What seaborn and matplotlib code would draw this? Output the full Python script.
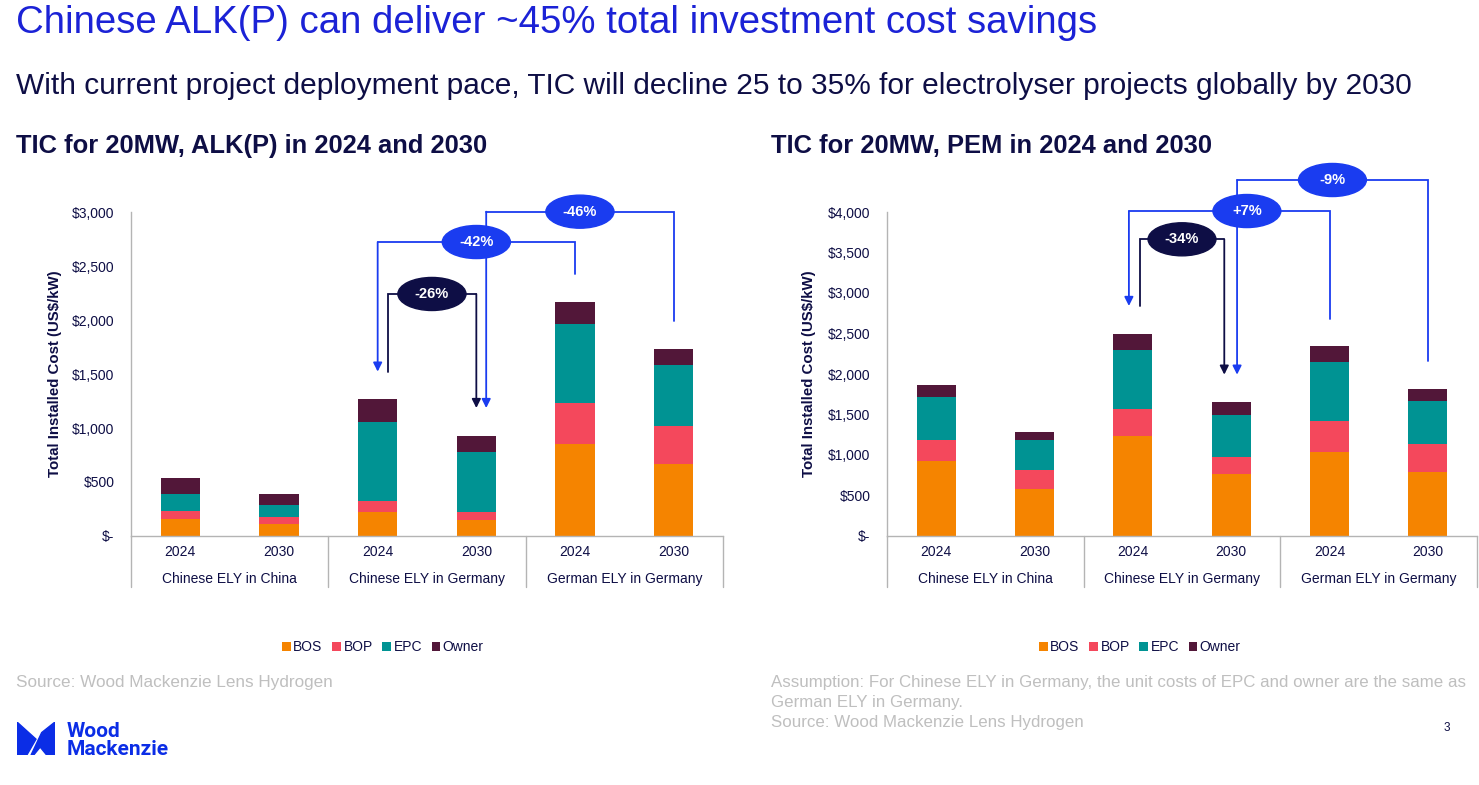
import numpy as np
import matplotlib.pyplot as plt
import seaborn as sns
from matplotlib.patches import Ellipse, Patch, Polygon
from matplotlib.transforms import blended_transform_factory

# ---- data (US$/kW) ----
groups = ["Chinese ELY in China", "Chinese ELY in Germany", "German ELY in Germany"]
years = ["2024", "2030"]
components = ["BOS", "BOP", "EPC", "Owner"]

alk_bos = [158, 108, 222, 151, 850, 664]
alk_bop = [77, 71, 105, 71, 380, 359]
alk_epc = [154, 105, 733, 553, 735, 559]
alk_owner = [149, 102, 207, 155, 204, 154]

pem_bos = [927, 577, 1240, 766, 1034, 787]
pem_bop = [255, 243, 330, 206, 383, 346]
pem_epc = [536, 362, 729, 527, 725, 535]
pem_owner = [152, 103, 201, 153, 202, 149]

# comparisons: (from bar, to bar, label)
alk_changes = [(2, 3, "-26%"), (4, 2, "-42%"), (5, 3, "-46%")]
pem_changes = [(2, 3, "-34%"), (4, 2, "+7%"), (5, 3, "-9%")]

# ---- styling ----
colors = ["#F58400", "#F4485C", "#009393", "#521739"]
navy = "#0E0E45"
blue = "#1A3CF0"
title_blue = "#1B22D6"
grey_txt = "#BFBFBF"
line_grey = "#B4B4B4"

W, H = 1479, 785


def fx(x):
    return x / W


def fy(y):
    return 1 - y / H


sns.set_style("white")
plt.rcParams["font.family"] = ["Liberation Sans", "DejaVu Sans"]

fig = plt.figure(figsize=(W / 100, H / 100), dpi=100)

fig.text(fx(16), fy(33), "Chinese ALK(P) can deliver ~45% total investment cost savings",
         color=title_blue, fontsize=27.6, va="baseline")
fig.text(fx(16), fy(94), "With current project deployment pace, TIC will decline 25 to 35% "
         "for electrolyser projects globally by 2030", color=navy, fontsize=21.5, va="baseline")


def draw_chart(ax, bos, bop, epc, owner, ymax, step, changes, bracket_levels,
               offsets, label_shift):
    labels = [f"{g}|{y}" for g in groups for y in years]
    layers = np.cumsum([bos, bop, epc, owner], axis=0)
    # stacked bars: draw cumulative totals from the top layer down
    for i in range(len(components) - 1, -1, -1):
        sns.barplot(x=labels, y=layers[i], order=labels, color=colors[i],
                    saturation=1, width=0.4, linewidth=0, ax=ax, zorder=2)
    ax.set_xlim(-0.5, 5.5)
    ax.set_ylim(0, ymax)
    ticks = np.arange(0, ymax + 1, step)
    ax.set_yticks(ticks, ["$-" if t == 0 else f"${t:,.0f}" for t in ticks])
    ax.set_xticks([])
    ax.set_xlabel("")
    ax.tick_params(axis="y", length=0, pad=12, labelsize=10, labelcolor=navy)
    for s in ["top", "right"]:
        ax.spines[s].set_visible(False)
    for s in ["left", "bottom"]:
        ax.spines[s].set_color(line_grey)
        ax.spines[s].set_linewidth(1)

    tr = blended_transform_factory(ax.transData, ax.transAxes)
    for k, x in enumerate(range(6)):
        ax.text(x, -0.049, years[k % 2], transform=tr, ha="center", va="center",
                fontsize=10, color=navy)
    for g, name in enumerate(groups):
        ax.text(2 * g + 0.5, -0.133, name, transform=tr, ha="center", va="center",
                fontsize=10, color=navy)
    for xb in [-0.5, 1.5, 3.5, 5.5]:
        ax.plot([xb, xb], [0, -0.157], transform=tr, color=line_grey, lw=1, clip_on=False)

    totals = layers[-1]
    gap = 0.085 * ymax
    ew, eh = 0.69, 0.102 * ymax
    for n, ((src, dst, lab), level, (dxs, dxd), shift) in enumerate(
            zip(changes, bracket_levels, offsets, label_shift)):
        col = navy if n == 0 else blue
        xs, xd = src + dxs, dst + dxd
        ax.plot([xs, xs, xd], [totals[src] + gap, level, level], color=col, lw=1.3,
                clip_on=False, zorder=3, solid_joinstyle="miter")
        ax.annotate("", xy=(xd, totals[dst] + gap), xytext=(xd, level),
                    arrowprops=dict(arrowstyle="-|>", color=col, lw=1.3, mutation_scale=13,
                                    shrinkA=0, shrinkB=0),
                    annotation_clip=False, zorder=3)
        lx = (xs + xd) / 2 + shift
        ax.add_patch(Ellipse((lx, level), ew, eh, color=col, clip_on=False, zorder=4))
        ax.text(lx, level, lab, color="white", ha="center", va="center", fontsize=10.5,
                fontweight="bold", zorder=5)


ax1 = fig.add_axes([fx(131), fy(536), fx(723 - 131), 324 / H])
draw_chart(ax1, alk_bos, alk_bop, alk_epc, alk_owner, 3000, 500, alk_changes,
           [2241, 2722, 3003], [(0.1, 0), (0, 0), (0, 0.1)], [0, 0, 0])

ax2 = fig.add_axes([fx(887), fy(536), fx(1477 - 887), 324 / H])
draw_chart(ax2, pem_bos, pem_bop, pem_epc, pem_owner, 4000, 500, pem_changes,
           [3663, 4012, 4395], [(0.07, -0.07), (0, -0.04), (0, 0.06)], [0, 0.18, 0])

fig.text(fx(16), fy(153), "TIC for 20MW, ALK(P) in 2024 and 2030", color=navy,
         fontsize=18.4, fontweight="bold", va="baseline")
fig.text(fx(771), fy(153), "TIC for 20MW, PEM in 2024 and 2030", color=navy,
         fontsize=18.4, fontweight="bold", va="baseline")

for xl in [55, 809]:
    fig.text(fx(xl), fy(374), "Total Installed Cost (US$/kW)", rotation=90, ha="center",
             va="center", fontsize=10.8, fontweight="bold", color=navy)

handles = [Patch(facecolor=c, edgecolor="none") for c in colors]
for xc in [383, 1140]:
    fig.legend(handles, components, loc="center", bbox_to_anchor=(fx(xc), fy(647)),
               ncol=4, frameon=False, fontsize=10, handlelength=0.6, handleheight=0.6,
               handletextpad=0.2, columnspacing=0.7, labelcolor=navy)

fig.text(fx(16), fy(687), "Source: Wood Mackenzie Lens Hydrogen", color=grey_txt,
         fontsize=12.3, va="baseline")
fig.text(fx(771), fy(687), "Assumption: For Chinese ELY in Germany, the unit costs of EPC "
         "and owner are the same as", color=grey_txt, fontsize=12.2, va="baseline")
fig.text(fx(771), fy(707), "German ELY in Germany.", color=grey_txt, fontsize=12.2,
         va="baseline")
fig.text(fx(771), fy(727), "Source: Wood Mackenzie Lens Hydrogen", color=grey_txt,
         fontsize=12.2, va="baseline")
fig.text(fx(1447), fy(731), "3", color=navy, fontsize=8.5, ha="center", va="baseline")

# logo
logo_blue = "#0B2DE6"
lax = fig.add_axes([fx(17), fy(755), fx(38), 33 / H])
lax.set_xlim(0, 1)
lax.set_ylim(0, 1)
lax.axis("off")
lax.add_patch(Polygon([(0, 1), (0.5, 0.48), (0.26, 0), (0, 0)], color=logo_blue))
lax.add_patch(Polygon([(1, 1), (1, 0), (0.78, 0), (0.61, 0.24), (0.44, 0), (0.37, 0),
                       (0.65, 0.68)], color=logo_blue))
fig.text(fx(67), fy(737), "Wood", color=logo_blue, fontsize=15, fontweight="bold",
         family="Roboto", va="baseline")
fig.text(fx(67), fy(755), "Mackenzie", color=logo_blue, fontsize=15, fontweight="bold",
         family="Roboto", va="baseline")

fig.savefig("out.png", dpi=100)
